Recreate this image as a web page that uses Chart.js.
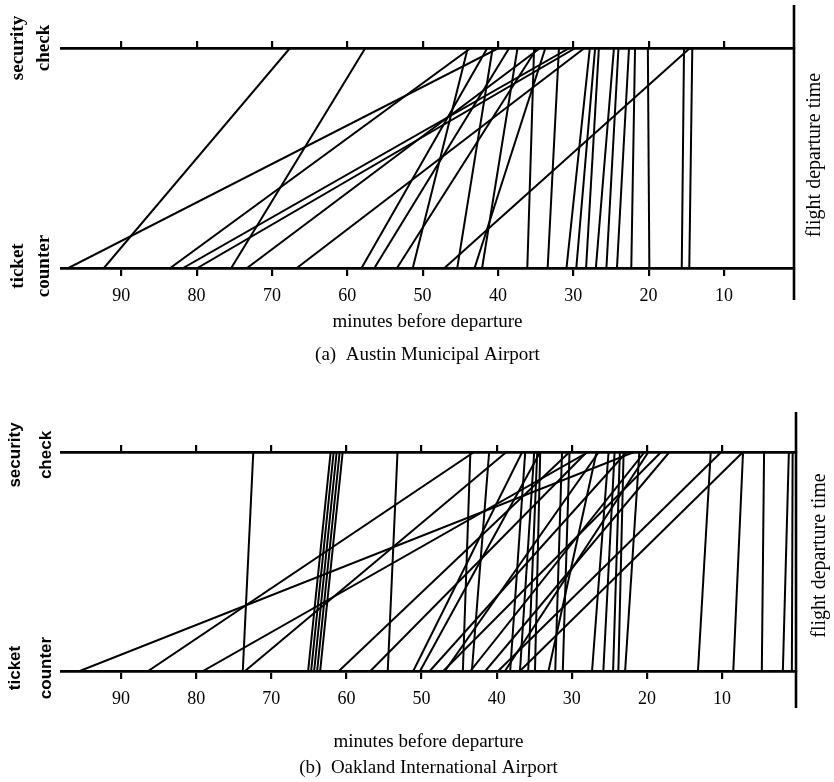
<!DOCTYPE html>
<html>
<head>
<meta charset="utf-8">
<script src="https://cdn.jsdelivr.net/npm/chart.js@4.4.1/dist/chart.umd.min.js"></script>
<style>
html,body{margin:0;padding:0;background:#fff;}
#wrapA{position:absolute;left:0;top:0;width:834px;height:375px;}
#wrapB{position:absolute;left:0;top:380px;width:834px;height:402px;}
canvas{display:block;}
</style>
</head>
<body>
<div id="wrapA"><canvas id="chartA" width="834" height="375"></canvas></div>
<div id="wrapB"><canvas id="chartB" width="834" height="402"></canvas></div>
<script>
// ---- data (minutes before departure) ----
const tickValues = [90, 80, 70, 60, 50, 40, 30, 20, 10];

// Austin: time at ticket counter -> time at security check
const austinCounter = [97.0, 92.3, 83.5, 81.8, 79.9, 75.4, 73.3, 66.7, 58.1, 56.4, 53.4, 51.3, 47.1, 45.4, 43.1, 42.1, 36.1, 33.4, 30.9, 29.6, 28.3, 27.0, 25.6, 24.2, 22.3, 19.9, 15.6, 14.6];
const austinCheck   = [39.9, 67.6, 43.6, 30.5, 29.7, 57.6, 34.4, 28.5, 41.4, 38.5, 34.8, 44.0, 14.5, 40.7, 33.7, 37.4, 35.2, 31.9, 27.8, 27.1, 26.6, 24.6, 24.0, 22.6, 21.8, 20.1, 15.3, 14.2];

// Oakland: time at ticket counter -> time at security check
const oaklandCounter = [95.5, 86.4, 79.1, 73.8, 73.5, 65.1, 64.7, 64.3, 63.9, 63.5, 61.0, 56.8, 54.5, 51.1, 47.1, 44.5, 43.3, 41.5, 39.8, 38.2, 36.9, 35.8, 34.9, 33.1, 32.2, 31.2, 27.3, 25.8, 24.5, 23.8, 22.9, 13.2, 8.5, 4.7, 1.9, 0.7, 46.9, 48.9, 43.5, 38.9, 50.2, 36.9];
const oaklandCheck   = [21.7, 43.0, 27.8, 72.4, 38.7, 62.1, 61.7, 61.3, 60.9, 60.5, 30.3, 28.0, 53.2, 36.6, 18.1, 43.5, 41.0, 17.0, 10.1, 36.2, 35.0, 34.6, 34.2, 26.7, 31.3, 30.3, 25.1, 24.3, 23.6, 23.1, 21.0, 11.5, 7.2, 4.4, 1.1, 0.6, 26.4, 22.7, 20.3, 19.8, 34.2, 7.2];

// ---- text ----
const axisTitle = 'minutes before departure';
const captionA = '(a)  Austin Municipal Airport';
const captionB = '(b)  Oakland International Airport';
const topSideLabel = ['security', 'check'];
const bottomSideLabel = ['ticket', 'counter'];
const rightSideLabel = 'flight departure time';

const SERIF = '"Liberation Serif", "DejaVu Serif", serif';
const SANS = '"Liberation Sans", Arial, sans-serif';

const sideText = {
  id: 'sideText',
  afterDraw(chart, args, o) {
    const ctx = chart.ctx;
    const {top, bottom} = chart.chartArea;
    ctx.save();
    ctx.fillStyle = '#000';
    ctx.textAlign = 'center';
    ctx.textBaseline = 'middle';
    const draw = (lines, x0, dx, cy, font) => {
      ctx.font = font;
      lines.forEach((t, i) => {
        ctx.save();
        ctx.translate(x0 + i * dx, cy);
        ctx.rotate(-Math.PI / 2);
        ctx.fillText(t, 0, 0);
        ctx.restore();
      });
    };
    draw(topSideLabel, o.lx, o.dx, top + o.topDy, o.leftFont);
    draw(bottomSideLabel, o.lx, o.dx, bottom + o.botDy, o.leftFont);
    draw([rightSideLabel], o.rx, 0, (top + bottom) / 2 + o.rDy, o.rightFont);
    ctx.restore();
  }
};

function makeChart(id, counter, check, cfg) {
  const datasets = counter.map((c, i) => ({
    data: [{x: c, y: 0}, {x: check[i], y: 1}],
    borderColor: '#000',
    borderWidth: 2,
    pointRadius: 0,
    fill: false,
    tension: 0
  }));
  // flight departure time line
  datasets.push({
    data: [{x: cfg.xMin, y: cfg.edgeLo}, {x: cfg.xMin, y: cfg.edgeHi}],
    borderColor: '#000',
    borderWidth: 2.6,
    pointRadius: 0,
    fill: false,
    clip: false
  });
  const setTicks = s => { s.ticks = tickValues.map(v => ({value: v})); };
  return new Chart(document.getElementById(id), {
    type: 'line',
    data: {datasets},
    plugins: [sideText],
    options: {
      responsive: false,
      animation: false,
      events: [],
      layout: {padding: {left: 61, right: cfg.padRight, top: cfg.padTop, bottom: cfg.padBottom}},
      scales: {
        x: {
          type: 'linear', position: 'bottom', reverse: true, min: cfg.xMin, max: cfg.xMax,
          afterBuildTicks: setTicks,
          afterFit: s => { s.height = cfg.axisH; },
          grid: {display: true, drawOnChartArea: false, drawTicks: true, tickLength: 8, tickWidth: 2.2, lineWidth: 2.2, color: '#000', tickColor: '#000'},
          border: {display: true, color: '#000', width: 2.8},
          ticks: {color: '#000', padding: 9, autoSkip: false, maxRotation: 0, font: {family: SERIF, size: 18}, callback: v => String(v)},
          title: {display: true, text: axisTitle, color: '#000', font: {family: SERIF, size: 19}, padding: {top: 0, bottom: 0}}
        },
        x2: {
          type: 'linear', position: 'top', reverse: true, min: cfg.xMin, max: cfg.xMax,
          afterBuildTicks: setTicks,
          afterFit: s => { s.height = 10; },
          grid: {display: true, drawOnChartArea: false, drawTicks: true, tickLength: 7, tickWidth: 2.2, lineWidth: 2.2, color: '#000', tickColor: '#000'},
          border: {display: true, color: '#000', width: 2.8},
          ticks: {display: false}
        },
        y: {type: 'linear', min: 0, max: 1, display: false}
      },
      plugins: {
        legend: {display: false},
        tooltip: {enabled: false},
        title: {display: true, position: 'bottom', text: cfg.caption, color: '#000', font: {family: SERIF, size: 19, weight: 'normal'}, padding: {top: cfg.capPadTop, bottom: 0}},
        sideText: cfg.side
      }
    }
  });
}

makeChart('chartA', austinCounter, austinCheck, {
  xMin: 0.7, xMax: 98, padRight: 40, padTop: 38, padBottom: 8.6, axisH: 65.4, capPadTop: 10.2,
  edgeLo: -0.145, edgeHi: 1.195, caption: captionA,
  side: {lx: 18, dx: 26, topDy: 0, botDy: -2, rx: 815, rDy: -3,
         leftFont: 'bold 19px ' + SERIF, rightFont: '20px ' + SERIF}
});

makeChart('chartB', oaklandCounter, oaklandCheck, {
  xMin: 0.15, xMax: 98, padRight: 38, padTop: 62, padBottom: 2.6, axisH: 82.4, capPadTop: 3.2,
  edgeLo: -0.169, edgeHi: 1.183, caption: captionB,
  side: {lx: 15, dx: 31, topDy: 3, botDy: -3, rx: 820, rDy: -6,
         leftFont: 'bold 17px ' + SANS, rightFont: '20px ' + SERIF}
});
</script>
</body>
</html>
